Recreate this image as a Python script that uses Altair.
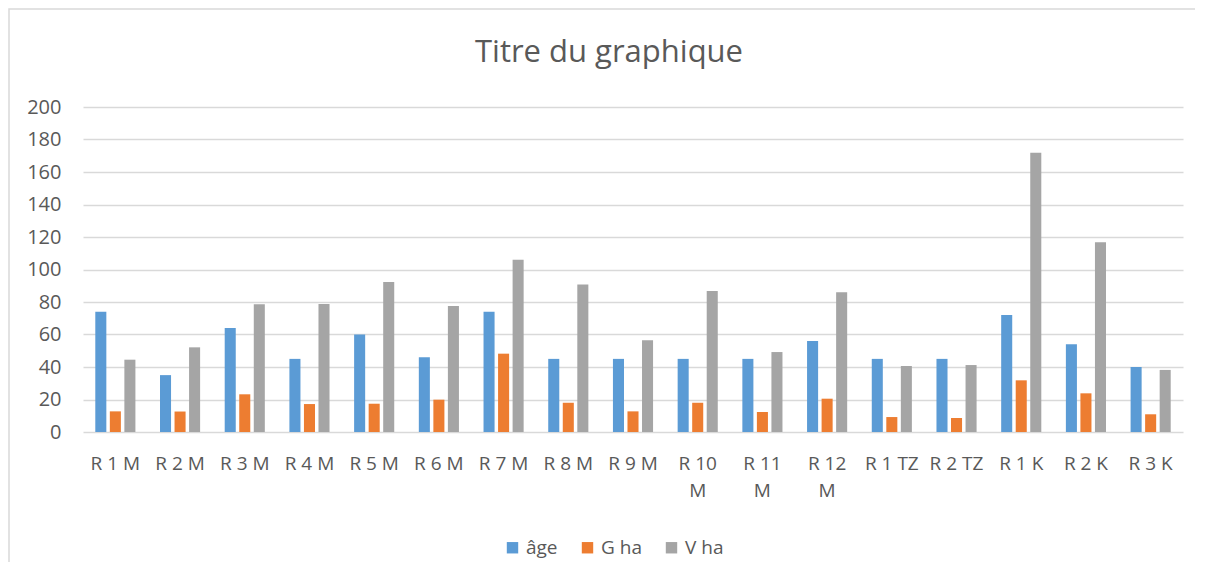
import altair as alt
import pandas as pd

categories = ["R 1 M", "R 2 M", "R 3 M", "R 4 M", "R 5 M", "R 6 M", "R 7 M", "R 8 M",
              "R 9 M", "R 10 M", "R 11 M", "R 12 M", "R 1 TZ", "R 2 TZ", "R 1 K", "R 2 K", "R 3 K"]
age = [74, 35, 64, 45, 60, 46, 74, 45, 45, 45, 45, 56, 45, 45, 72, 54, 40]
g_ha = [12.7, 12.6, 23.2, 17.2, 17.4, 19.9, 48.2, 18, 12.7, 18, 12.3, 20.5, 9.2, 8.6, 31.8, 23.8, 10.9]
v_ha = [44.5, 52.1, 78.6, 78.8, 92.3, 77.5, 106, 90.7, 56.4, 86.8, 49.2, 86, 40.6, 41.2, 171.9, 116.7, 38.2]
series = ["âge", "G ha", "V ha"]
colors = ["#5B9BD5", "#ED7D31", "#A5A5A5"]
y_ticks = [0, 20, 40, 60, 80, 100, 120, 140, 160, 180, 200]
title_text = ["Titre du graphique"]

rows = []
for i, c in enumerate(categories):
    for s, vals in zip(series, [age, g_ha, v_ha]):
        rows.append({"cat": c, "serie": s, "val": vals[i]})
df = pd.DataFrame(rows)

FONT = "Open Sans"
TXT = "#595959"

bars = alt.Chart(df).mark_bar().encode(
    x=alt.X("cat:N", sort=categories, title=None,
            scale=alt.Scale(paddingInner=0.38, paddingOuter=0.19),
            axis=alt.Axis(labelAngle=0, ticks=False, domain=False, labelPadding=22,
                          labelFontSize=19, labelColor=TXT, labelFont=FONT,
                          labelLineHeight=27, labelFontWeight="normal",
                          labelExpr="length(datum.label) == 6 && indexof(datum.label, 'TZ') < 0 ? [slice(datum.label, 0, 4), 'M'] : datum.label")),
    xOffset=alt.XOffset("serie:N", sort=series,
                        scale=alt.Scale(paddingInner=0.24, paddingOuter=0)),
    y=alt.Y("val:Q", title=None,
            scale=alt.Scale(domain=[0, 200], nice=False),
            axis=alt.Axis(values=y_ticks, ticks=False, domain=False, labelPadding=22,
                          labelFontSize=20, labelColor=TXT, labelFont=FONT,
                          gridColor="#D9D9D9", gridWidth=1.5)),
    color=alt.Color("serie:N", sort=series,
                    scale=alt.Scale(domain=series, range=colors),
                    legend=alt.Legend(title=None, orient="none", direction="horizontal",
                                      legendX=420, legendY=431, symbolType="square",
                                      symbolSize=130, symbolStrokeWidth=0,
                                      labelFontSize=19, labelColor=TXT, labelFont=FONT,
                                      columnPadding=20, labelOffset=4)),
)

border = alt.Chart(pd.DataFrame({"k": [0]})).mark_rect(
    filled=False, stroke="#D9D9D9", strokeWidth=1.5
).encode(
    x=alt.value(-74), x2=alt.value(1200), y=alt.value(-98), y2=alt.value(600)
)

title = alt.Chart(pd.DataFrame({"t": title_text})).mark_text(
    font=FONT, fontSize=31, color=TXT, align="center", baseline="middle"
).encode(
    text="t:N", x=alt.value(526), y=alt.value(-54)
)

chart = alt.layer(border, title, bars).properties(
    width=1100, height=325,
    autosize=alt.AutoSizeParams(type="none"),
    padding={"left": 75, "top": 99, "right": 12, "bottom": 130},
).configure(background="white").configure_view(stroke=None)

chart.save("out.html", embed_options={"renderer": "svg", "actions": False})
